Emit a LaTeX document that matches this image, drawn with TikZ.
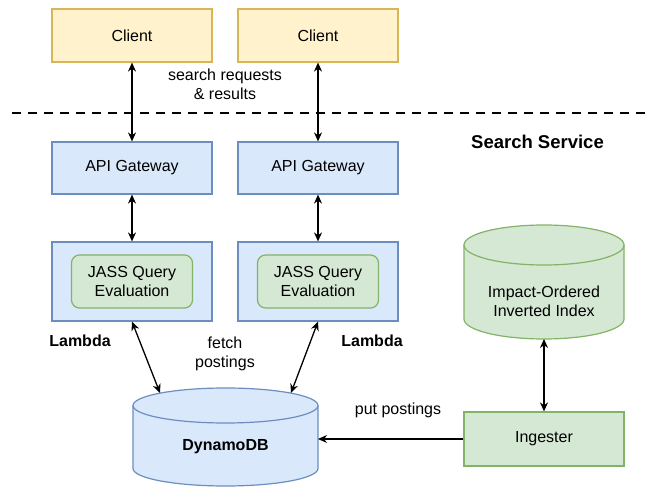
\documentclass[tikz,border=0pt]{standalone}
\usepackage{fontspec}
\setmainfont{Liberation Sans}
\usetikzlibrary{arrows.meta}
\definecolor{ybord}{HTML}{D6B656}\definecolor{yfill}{HTML}{FFF2CC}
\definecolor{bbord}{HTML}{6C8EBF}\definecolor{bfill}{HTML}{DAE8FC}
\definecolor{gbord}{HTML}{82B366}\definecolor{gfill}{HTML}{D5E8D4}
\tikzset{
  every node/.style={font=\fontsize{16}{19}\selectfont,align=center},
  client/.style={draw=ybord,fill=yfill,line width=1.2pt,minimum width=160pt,minimum height=53pt},
  bluebox/.style={draw=bbord,fill=bfill,line width=1.2pt,minimum width=160pt},
  greenbox/.style={draw=gbord,fill=gfill,line width=1.2pt},
  link/.style={line width=1.3pt,{Stealth[length=9pt,width=8pt]}-{Stealth[length=9pt,width=8pt]}},
  bold/.style={font=\fontsize{16}{19}\selectfont\bfseries}
}
\begin{document}
\begin{tikzpicture}[x=1pt,y=1pt]
\useasboundingbox (0,0) rectangle (645,487);
% clients
\node[client] (client1) at (132,451.5) {Client};
\node[client] (client2) at (318,451.5) {Client};
\node (req) at (225,403) {search requests\\\& results};
\draw[line width=2pt,dash pattern=on 9pt off 7pt] (12,374)--(645,374);
\node[font=\fontsize{18.5}{22}\selectfont\bfseries] (service) at (537.5,345) {Search Service};
% gateways and lambdas
\node[bluebox,minimum height=52pt] (api1) at (132,319) {API Gateway};
\node[bluebox,minimum height=52pt] (api2) at (318,319) {API Gateway};
\node[bluebox,minimum height=79pt] (lambda1) at (132,205.5) {};
\node[bluebox,minimum height=79pt] (lambda2) at (318,205.5) {};
\node[greenbox,rounded corners=8pt,minimum width=121pt,minimum height=53pt] (jass1) at (lambda1) {JASS Query\\Evaluation};
\node[greenbox,rounded corners=8pt,minimum width=121pt,minimum height=53pt] (jass2) at (lambda2) {JASS Query\\Evaluation};
\node[bold] (lam1) at (80,146) {Lambda};
\node[bold] (lam2) at (372,146) {Lambda};
\node (fetch) at (225,133) {fetch\\postings};
% dynamodb
\filldraw[draw=bbord,fill=bfill,line width=1.2pt] (133,81.5)--(133,18.5) arc[start angle=180,end angle=360,x radius=92.5,y radius=17.5]--(318,81.5) arc[start angle=0,end angle=180,x radius=92.5,y radius=17.5];
\draw[bbord,line width=1.2pt] (133,81.5) arc[start angle=180,end angle=360,x radius=92.5,y radius=17.5];
\node[bold] (dynamo) at (225.5,40) {DynamoDB};
\coordinate (db1) at (160,94);
\coordinate (db2) at (291,94);
\coordinate (dbe) at (318,48);
% index
\filldraw[draw=gbord,fill=gfill,line width=1.2pt] (464,242)--(464,168) arc[start angle=180,end angle=360,x radius=80,y radius=20]--(624,242) arc[start angle=0,end angle=180,x radius=80,y radius=20];
\draw[gbord,line width=1.2pt] (464,242) arc[start angle=180,end angle=360,x radius=80,y radius=20];
\node (index) at (544,186) {Impact-Ordered\\Inverted Index};
\coordinate (idx) at (544,148);
\node[greenbox,minimum width=160pt,minimum height=54pt] (ingester) at (544,48) {Ingester};
\node (put) at (398,77) {put postings};
% connectors
\draw[link] (client1)--(api1);
\draw[link] (client2)--(api2);
\draw[link] (api1)--(lambda1);
\draw[link] (api2)--(lambda2);
\draw[link] (lambda1.south)--(db1);
\draw[link] (lambda2.south)--(db2);
\draw[link] (idx)--(ingester);
\draw[line width=1.3pt,-{Stealth[length=9pt,width=8pt]}] (ingester)--(dbe);
\end{tikzpicture}
\end{document}
